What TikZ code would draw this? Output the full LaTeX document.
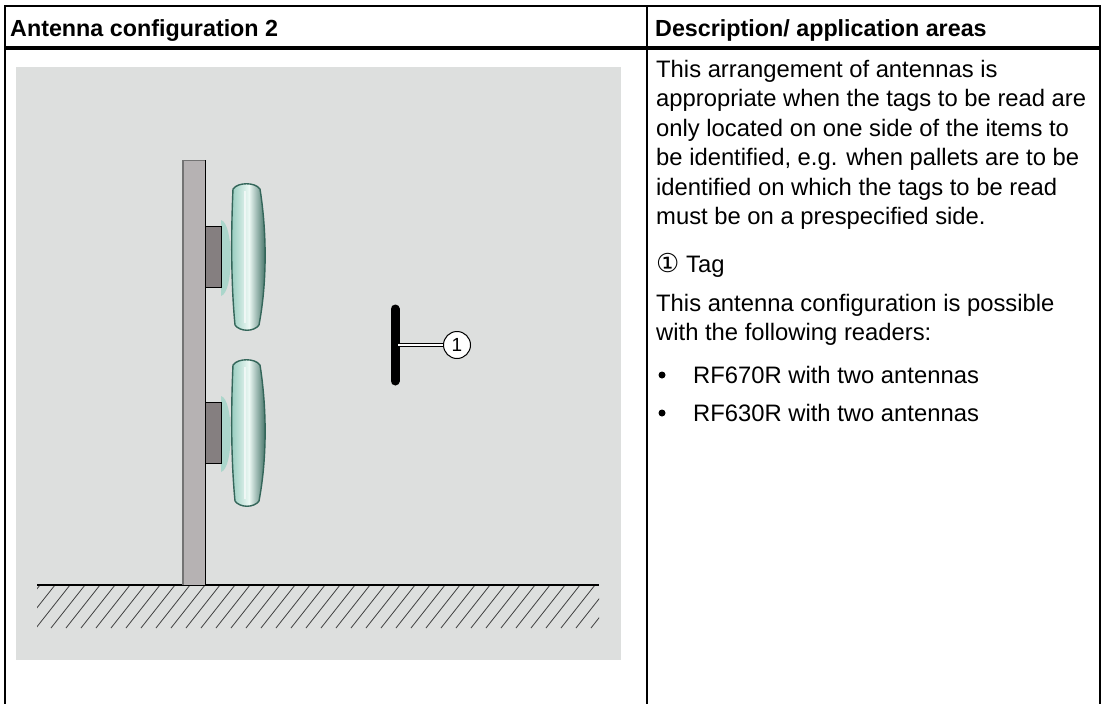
\documentclass[tikz,border=0pt]{standalone}
\usepackage{fontspec}
\setmainfont{Liberation Sans}
\newfontfamily\symfont{DejaVu Sans}
\usepackage{xcolor}
\usetikzlibrary{positioning, calc}
\definecolor{panelgray}{RGB}{221,223,222}
\definecolor{wallgray}{RGB}{182,178,179}
\definecolor{mountgray}{RGB}{133,127,128}
\definecolor{tealdark}{RGB}{52,102,90}
\definecolor{tealmid}{RGB}{150,204,190}
\definecolor{teallight}{RGB}{236,248,244}

\begin{document}
\begin{tikzpicture}[
    x=1pt, y=-1pt,
    rule/.style={line width=2pt},
    headrule/.style={line width=4.5pt},
    headtext/.style={anchor=base west, inner sep=0pt, font=\bfseries\fontsize{23.3}{27}\selectfont},
    para/.style={anchor=north west, inner sep=0pt, align=left, font=\fontsize{23.8}{29.5}\selectfont},
    line/.style={anchor=base west, inner sep=0pt, font=\fontsize{23.8}{29.5}\selectfont},
    bullet/.style={circle, fill=black, inner sep=0pt, minimum size=7pt},
    mount/.style={draw=black, fill=mountgray, line width=1pt},
    tagbar/.style={line width=9pt, line cap=round},
    callout/.style={circle, draw, fill=white, line width=1pt, minimum size=27pt, inner sep=0pt, font=\fontsize{19}{19}\selectfont}
]
\useasboundingbox (0,0) rectangle (1104,704);

% Table frame
\draw[rule] (5,704) -- (5,6) -- (1100,6) -- (1100,704);
\draw[rule] (647,6) -- (647,704);
\draw[headrule] (5,48) -- (1100,48);

% Header
\node[headtext] (hleft) at (10,36) {Antenna configuration 2};
\node[headtext] (hright) at (655,36) {Description/ application areas};

% Picture background
\fill[panelgray] (16,67) rectangle (621,660);

% Floor with hatching
\begin{scope}
  \clip (37,585) rectangle (599,628);
  \foreach \i in {0,...,40}
    \draw[black!75, line width=0.8pt] ({40+15*\i},585) -- ({40+15*\i-34},628);
\end{scope}
\draw[line width=1.2pt] (37,585) -- (599,585);

% Wall
\fill[wallgray] (183,160) rectangle (205,585);
\draw[black!55, line width=1.4pt] (183,160) -- (183,585);
\draw[line width=1pt] (205,160) -- (205,585);
\draw[black!55, line width=0.8pt] (183,160) -- (205,160);

% Antennas
\foreach \y/\name in {183/upper, 359/lower} {
  % housing bump behind the front cover
  \fill[tealmid!80] ($(221,\y)+(0,37)$) .. controls ($(234,\y)+(0,40)$) and ($(234,\y)+(0,110)$) .. ($(221,\y)+(0,113)$) -- cycle;
  % front cover
  \shade[left color=tealmid, right color=tealdark, middle color=teallight, draw=tealdark, line width=1.4pt]
    ($(233,\y)+(0,6)$) .. controls ($(238,\y)+(0,-1)$) and ($(255,\y)+(0,-1)$) .. ($(260,\y)+(0,6)$)
    .. controls ($(267,\y)+(0,50)$) and ($(267,\y)+(0,100)$) .. ($(259,\y)+(0,142)$)
    .. controls ($(254,\y)+(0,149)$) and ($(240,\y)+(0,149)$) .. ($(235,\y)+(0,142)$)
    .. controls ($(231,\y)+(0,100)$) and ($(231,\y)+(0,50)$) .. cycle;
  \draw[white!85!tealmid, line width=1.5pt] ($(245,\y)+(0,8)$) -- ($(245,\y)+(0,140)$);
  % bracket between wall and antenna
  \draw[mount] ($(205,\y)+(0,43)$) rectangle ($(221,\y)+(0,104)$);
}

% Tag with callout
\coordinate (tagtop) at (395,309);
\coordinate (tagbot) at (395,381);
\coordinate (tagmid) at (398,345);
\draw[tagbar] (tagtop) -- (tagbot);
\node[callout] (num) at (457,345) {1};
\draw[line width=4.6pt] (tagmid) -- (num.west);
\draw[white, line width=2pt] (tagmid) -- (num.west);

% Description column
\node[para] (desc) at (656,59.8) {This arrangement of antennas is\\
appropriate when the tags to be read are\\
only located on one side of the items to\\
be identified, e.g. when pallets are to be\\
identified on which the tags to be read\\
must be on a prespecified side.};
\node[line] (tagkey) at (656,272) {{\symfont\fontsize{26}{29.5}\selectfont ①} Tag};
\node[para] (readers) at (656,293.8) {This antenna configuration is possible\\
with the following readers:};
\node[line] (rf670) at (693,383) {RF670R with two antennas};
\node[line] (rf630) at (693,421) {RF630R with two antennas};
\node[bullet] (b1) at (662,375) {};
\node[bullet] (b2) at (662,413) {};

\end{tikzpicture}
\end{document}
